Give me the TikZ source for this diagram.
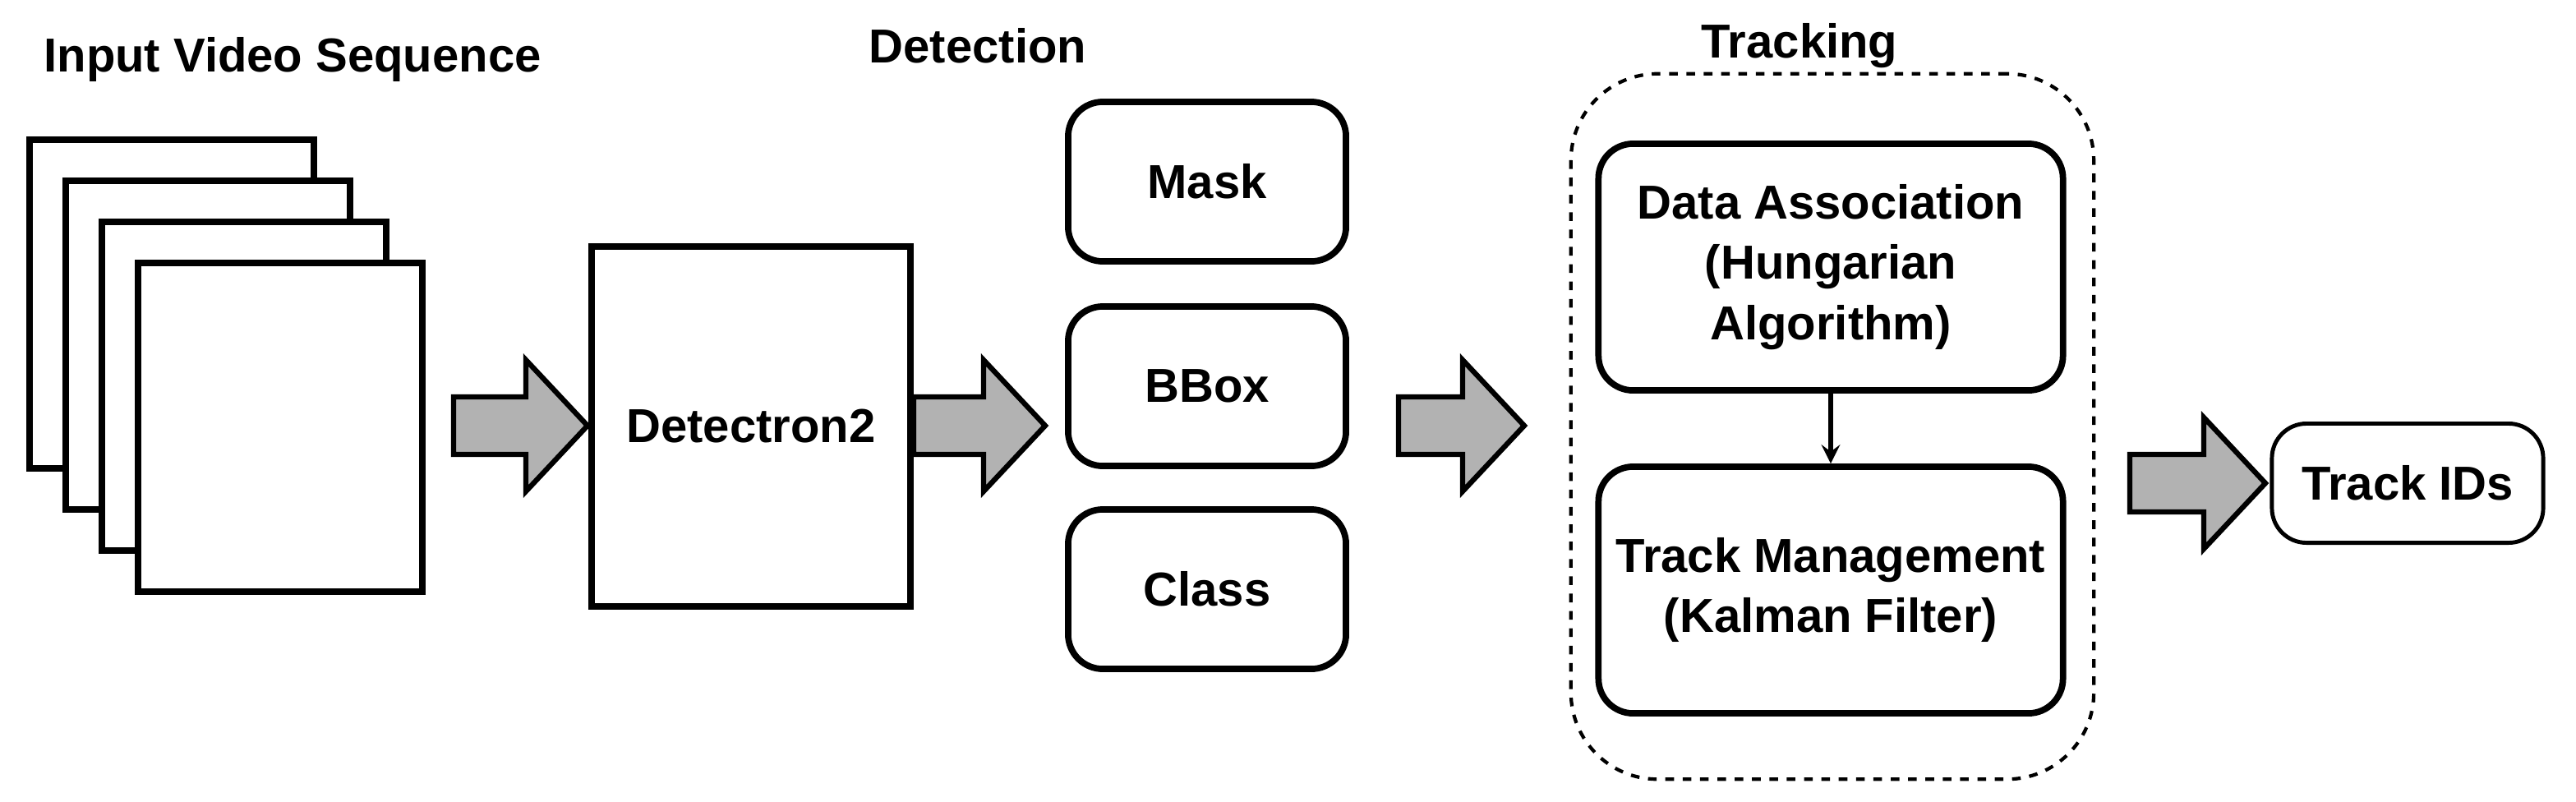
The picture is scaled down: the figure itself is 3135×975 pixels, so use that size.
\documentclass[tikz,border=0pt]{standalone}
\usepackage{fontspec}
\setmainfont{Liberation Sans}
\begin{document}
\begin{tikzpicture}[x=0.01cm,y=-0.01cm,line width=2.2pt,
  frame/.style={draw,fill=white},
  box/.style={draw,rounded corners=12pt,fill=white},
  lbl/.style={font=\fontsize{16.5}{21}\selectfont\bfseries,align=center},
  blk/.style={draw,fill=gray!60,line width=1.8pt}]
\useasboundingbox (0,0) rectangle (3135,975);
\node[lbl] (t1) at (356,72) {Input Video Sequence};
\node[lbl] (t2) at (1190,56) {Detection};
\node[lbl] (t3) at (2190,56) {Tracking};
\foreach \i in {0,1,2,3}{
  \draw[frame] (36+44*\i,170+50*\i) rectangle ++(346,400);
}
\newcommand{\blockarrow}[3]{% x1, x2, yc
  \draw[blk] (#1,#3-35) -- (#2-75,#3-35) -- (#2-75,#3-80) -- (#2,#3) -- (#2-75,#3+80) -- (#2-75,#3+35) -- (#1,#3+35) -- cycle;}
\blockarrow{552}{715}{518}
\node[draw,minimum width=3.88cm,minimum height=4.38cm,lbl] (det) at (914,519) {Detectron2};
\blockarrow{1112}{1272}{518}
\node[box,minimum width=3.38cm,minimum height=1.94cm,lbl] (mask) at (1469,221) {Mask};
\node[box,minimum width=3.38cm,minimum height=1.94cm,lbl] (bbox) at (1469,470) {BBox};
\node[box,minimum width=3.38cm,minimum height=1.94cm,lbl] (cls) at (1469,717) {Class};
\blockarrow{1702}{1855}{518}
\node[draw,dashed,line width=1.2pt,rounded corners=30pt,minimum width=6.36cm,minimum height=8.58cm] (trk) at (2230,519) {};
\node[box,minimum width=5.65cm,minimum height=3.0cm,lbl] (da) at (2228,325) {Data Association\\(Hungarian\\Algorithm)};
\node[box,minimum width=5.65cm,minimum height=3.0cm,lbl] (tm) at (2228,718) {Track Management\\(Kalman Filter)};
\draw[-stealth,line width=1.8pt] (da) -- (tm);
\blockarrow{2592}{2757}{588}
\node[draw,rounded corners=12pt,line width=1.4pt,minimum width=3.3cm,minimum height=1.45cm,lbl] (ids) at (2930,588) {Track IDs};
\end{tikzpicture}
\end{document}
